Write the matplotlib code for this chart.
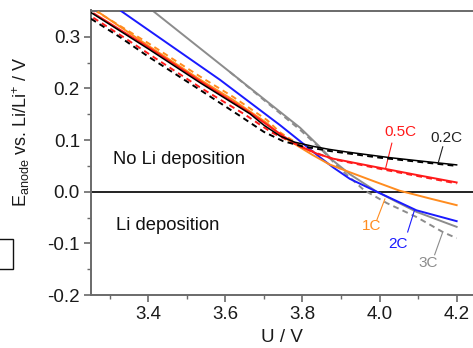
import matplotlib
matplotlib.use("Agg")
import matplotlib.pyplot as plt
from matplotlib.patches import Rectangle

plt.rcParams['font.family'] = ['Liberation Sans', 'DejaVu Sans']

# ---- data ----
x_02 = [3.252, 3.40, 3.535, 3.664, 3.70, 3.742, 3.78, 3.827, 3.87, 3.915, 4.027, 4.10, 4.20]
y_02 = [0.347, 0.277, 0.211, 0.151, 0.129, 0.108, 0.096, 0.088, 0.082, 0.077, 0.066, 0.060, 0.052]
x_02d = [3.252, 3.33, 3.40, 3.535, 3.64, 3.70, 3.75, 3.80, 3.87, 4.0, 4.2]
y_02d = [0.335, 0.298, 0.262, 0.197, 0.146, 0.116, 0.098, 0.088, 0.079, 0.066, 0.050]

x_05 = [3.26, 3.40, 3.535, 3.664, 3.75, 3.794, 3.84, 3.88, 4.01, 4.10, 4.20]
y_05 = [0.345, 0.280, 0.214, 0.153, 0.108, 0.088, 0.073, 0.064, 0.045, 0.032, 0.018]
x_05d = [3.258, 3.335, 3.418, 3.537, 3.65, 3.72, 3.78, 3.84, 3.88, 4.01, 4.20]
y_05d = [0.337, 0.300, 0.259, 0.201, 0.150, 0.115, 0.093, 0.074, 0.063, 0.043, 0.016]

x_1 = [3.271, 3.40, 3.535, 3.620, 3.708, 3.742, 3.794, 3.827, 3.87, 3.915, 3.983, 4.052, 4.130, 4.20]
y_1 = [0.348, 0.283, 0.217, 0.178, 0.133, 0.110, 0.086, 0.071, 0.053, 0.040, 0.021, 0.002, -0.013, -0.026]
x_1d = [3.26, 3.40, 3.535, 3.620, 3.708, 3.742, 3.794, 3.83]
y_1d = [0.352, 0.288, 0.223, 0.184, 0.139, 0.115, 0.090, 0.075]

x_2 = [3.330, 3.586, 3.742, 3.794, 3.845, 3.88, 3.923, 3.993, 4.096, 4.20]
y_2 = [0.350, 0.217, 0.129, 0.098, 0.067, 0.047, 0.025, 0.000, -0.036, -0.057]

x_3 = [3.413, 3.612, 3.794, 3.845, 3.88, 3.923, 3.993, 4.096, 4.20]
y_3 = [0.350, 0.232, 0.124, 0.087, 0.060, 0.034, 0.000, -0.039, -0.068]
x_3d = [3.612, 3.794, 3.845, 3.88, 3.915, 3.96, 4.019, 4.096, 4.164, 4.20]
y_3d = [0.232, 0.120, 0.085, 0.058, 0.033, 0.003, -0.022, -0.049, -0.078, -0.090]

rate_labels = ['0.5C', '0.2C', '1C', '2C', '3C']
x_ticks = [3.4, 3.6, 3.8, 4.0, 4.2]
y_ticks = [-0.2, -0.1, 0.0, 0.1, 0.2, 0.3]

C_BLACK = '#000000'
C_RED = '#ff1a1a'
C_ORANGE = '#ff8c1f'
C_BLUE = '#1a1aff'
C_GRAY = '#8c8c8c'
SPINE = '#6a6a6a'

fig = plt.figure(figsize=(4.73, 3.48), dpi=100)
ax = fig.add_axes([91/473, 53/348, (474-91)/473, (295-10.5)/348])

lw = 1.4
dash = (0, (3.0, 2.2))
ax.axhline(0, color='#111111', lw=1.3, zorder=1)
ax.plot(x_1d, y_1d, color=C_ORANGE, lw=lw, ls=dash, zorder=2)
ax.plot(x_3, y_3, color=C_GRAY, lw=lw, zorder=2)
ax.plot(x_3d, y_3d, color=C_GRAY, lw=lw, ls=dash, zorder=2)
ax.plot(x_2, y_2, color=C_BLUE, lw=lw, zorder=3)
ax.plot(x_1, y_1, color=C_ORANGE, lw=lw, zorder=3)
ax.plot(x_05d, y_05d, color=C_RED, lw=lw, ls=dash, zorder=3)
ax.plot(x_05, y_05, color=C_RED, lw=lw, zorder=3)
ax.plot(x_02d, y_02d, color=C_BLACK, lw=lw, ls=dash, zorder=4)
ax.plot(x_02, y_02, color=C_BLACK, lw=1.1, zorder=4)

ax.set_xlim(3.252, 4.245)
ax.set_ylim(-0.2, 0.351)
ax.set_xticks(x_ticks)
ax.set_yticks(y_ticks)
ax.set_xticklabels([f'{v:.1f}' for v in x_ticks])
ax.set_yticklabels([f'{v:.1f}' for v in y_ticks])
ax.set_xticks([3.3, 3.5, 3.7, 3.9, 4.1], minor=True)
ax.set_yticks([-0.15, -0.05, 0.05, 0.15, 0.25], minor=True)
ax.tick_params(axis='both', which='major', direction='out', length=5, width=1.2,
               color=SPINE, labelsize=13.5, labelcolor='#1a1a1a', pad=3)
ax.tick_params(axis='both', which='minor', direction='out', length=3, width=1.0, color=SPINE)
ax.tick_params(axis='y', which='both', right=True, labelright=False)
for s in ax.spines.values():
    s.set_color(SPINE)
    s.set_linewidth(1.4)

ax.text(3.309, 0.062, 'No Li deposition', fontsize=13.2, va='center', ha='left', color='#111111')
ax.text(3.317, -0.066, 'Li deposition', fontsize=13.2, va='center', ha='left', color='#111111')

fs = 11
ax.text(4.055, 0.116, rate_labels[0], color=C_RED, fontsize=fs, ha='center', va='center')
ax.plot([4.032, 4.016], [0.094, 0.046], color=C_RED, lw=0.8)
ax.text(4.174, 0.104, rate_labels[1], color='#222222', fontsize=fs, ha='center', va='center')
ax.plot([4.164, 4.153], [0.087, 0.058], color='#222222', lw=0.8)
ax.text(3.980, -0.066, rate_labels[2], color=C_ORANGE, fontsize=fs, ha='center', va='center')
ax.plot([4.014, 3.993], [-0.014, -0.055], color=C_ORANGE, lw=0.8)
ax.text(4.047, -0.101, rate_labels[3], color=C_BLUE, fontsize=fs, ha='center', va='center')
ax.plot([4.091, 4.073], [-0.035, -0.078], color=C_BLUE, lw=0.8)
ax.text(4.125, -0.138, rate_labels[4], color=C_GRAY, fontsize=fs, ha='center', va='center')
ax.plot([4.164, 4.143], [-0.078, -0.122], color=C_GRAY, lw=0.8)

fig.text(282/473, 1 - 338/348, 'U / V', fontsize=13.5, ha='center', va='center', color='#1a1a1a')
fig.text(21/473, 1 - 132/348, r'E$_{\mathregular{anode}}$ vs. Li/Li$^{\mathregular{+}}$ / V',
         fontsize=13, rotation=90, ha='center', va='center', color='#1a1a1a')

fig.patches.append(Rectangle((-2/473, 1 - 269/348), 15/473, 30/348, transform=fig.transFigure,
                             fill=False, edgecolor='#111111', lw=1.0))

fig.savefig('out.png', dpi=100)
